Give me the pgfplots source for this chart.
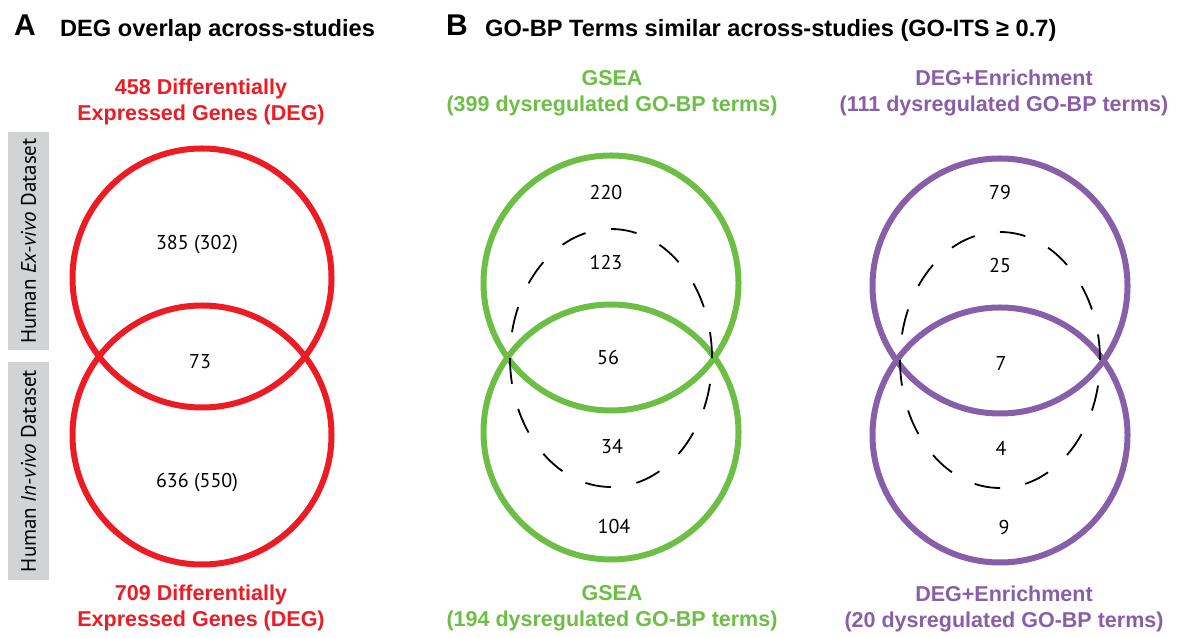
\documentclass[border=0pt]{standalone}
\usepackage{fontspec}
\setmainfont{Liberation Sans}
\newfontfamily\myriad{PT Sans}
\usepackage{pgfplots}
\pgfplotsset{compat=1.18}
\definecolor{degred}{RGB}{237,28,36}
\definecolor{gseagreen}{RGB}{108,190,69}
\definecolor{enrpurple}{RGB}{137,94,168}
\definecolor{sidegrey}{RGB}{209,211,212}

\newcommand{\titlefont}{\fontsize{23.6}{28}\selectfont\bfseries}
\newcommand{\panelfont}{\fontsize{30}{30}\selectfont\bfseries}
\newcommand{\setfont}{\fontsize{21.5}{26}\selectfont\bfseries}
\newcommand{\countfont}{\myriad\fontsize{20}{24}\selectfont}

\begin{document}
\begin{tikzpicture}
\begin{axis}[
  width=1180pt, height=637pt, scale only axis,
  xmin=0, xmax=1180, ymin=0, ymax=637,
  hide axis, clip=false]
\path (axis cs:0,0) rectangle (axis cs:1180,637);

% ---------- Panel A: DEG overlap ----------
\node[anchor=base west, inner sep=0pt] at (axis cs:14,601) {\panelfont A};
\node[anchor=base west, inner sep=0pt] at (axis cs:60,600) {\titlefont DEG overlap across-studies};

\fill[sidegrey] (axis cs:8,287) rectangle (axis cs:49,505);
\fill[sidegrey] (axis cs:8,57) rectangle (axis cs:49,275);
\node[rotate=90, inner sep=0pt] at (axis cs:28.5,396) {\myriad\fontsize{21}{24}\selectfont Human \textit{Ex-vivo} Dataset};
\node[rotate=90, inner sep=0pt] at (axis cs:28.5,166) {\myriad\fontsize{21}{24}\selectfont Human \textit{In-vivo} Dataset};

\draw[degred, line width=6pt] (axis cs:202,359) circle [radius=129.5];
\draw[degred, line width=6pt] (axis cs:202,202) circle [radius=129.5];

\node[align=center, text=degred, font=\setfont] at (axis cs:201,535) {458 Differentially\\Expressed Genes (DEG)};
\node[align=center, text=degred, font=\setfont] at (axis cs:201,29) {709 Differentially\\Expressed Genes (DEG)};

\node[font=\countfont] at (axis cs:197,392) {385 (302)};
\node[font=\countfont] at (axis cs:200,275) {73};
\node[font=\countfont] at (axis cs:197,154) {636 (550)};

% ---------- Panel B: GO-BP terms ----------
\node[anchor=base west, inner sep=0pt] at (axis cs:446,601) {\panelfont B};
\node[anchor=base west, inner sep=0pt] at (axis cs:485,600) {\titlefont GO-BP Terms similar across-studies (GO-ITS ≥ 0.7)};

% GSEA
\draw[gseagreen, line width=6pt] (axis cs:611,354) circle [radius=127.5];
\draw[gseagreen, line width=6pt] (axis cs:611,205) circle [radius=127.5];
\draw[black, line width=1.8pt, dash pattern=on 25.9pt off 25.9pt]
  (axis cs:611,279) ellipse [x radius=101, y radius=129];

\node[align=center, text=gseagreen, font=\setfont] at (axis cs:612,544) {GSEA\\(399 dysregulated GO-BP terms)};
\node[align=center, text=gseagreen, font=\setfont] at (axis cs:612,28.5) {GSEA\\(194 dysregulated GO-BP terms)};

\node[font=\countfont] at (axis cs:606,444) {220};
\node[font=\countfont] at (axis cs:606,374) {123};
\node[font=\countfont] at (axis cs:608,279) {56};
\node[font=\countfont] at (axis cs:612,190) {34};
\node[font=\countfont] at (axis cs:614,110) {104};

% DEG+Enrichment
\draw[enrpurple, line width=6pt] (axis cs:1000,351) circle [radius=127.5];
\draw[enrpurple, line width=6pt] (axis cs:1000,202) circle [radius=127.5];
\draw[black, line width=1.8pt, dash pattern=on 25.68pt off 25.68pt]
  (axis cs:1000,277) ellipse [x radius=100, y radius=128];

\node[align=center, text=enrpurple, font=\setfont] at (axis cs:1004,544) {DEG+Enrichment\\(111 dysregulated GO-BP terms)};
\node[align=center, text=enrpurple, font=\setfont] at (axis cs:1004,28.5) {DEG+Enrichment\\(20 dysregulated GO-BP terms)};

\node[font=\countfont] at (axis cs:1000,444) {79};
\node[font=\countfont] at (axis cs:1000,371) {25};
\node[font=\countfont] at (axis cs:1001,273) {7};
\node[font=\countfont] at (axis cs:1001,189) {4};
\node[font=\countfont] at (axis cs:1004,109) {9};
\end{axis}
\end{tikzpicture}
\end{document}
